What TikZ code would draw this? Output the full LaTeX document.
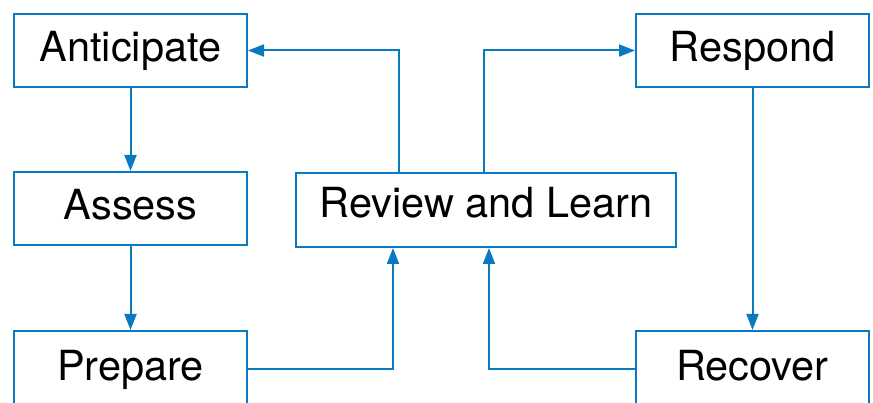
\documentclass[tikz,border=0pt]{standalone}
\usepackage{fontspec}
\setmainfont{TeX Gyre Heros}
\usetikzlibrary{arrows.meta}
\definecolor{lineblue}{RGB}{10,122,192}
\begin{document}
\begin{tikzpicture}[x=1pt,y=-1pt,
  box/.style={draw=lineblue, line width=2pt, inner sep=0pt, minimum width=233pt, minimum height=73pt,
    text height=29pt, text depth=6pt,
    font=\fontsize{41.5}{41.5}\selectfont, text=black},
  arr/.style={draw=lineblue, line width=2pt, -{Triangle[length=16pt,width=12pt]}}]
\useasboundingbox (0,0) rectangle (873,403);
\clip (0,0) rectangle (873,403);
\node[box] (ant) at (130.5,50.5) {Anticipate};
\node[box] (ass) at (130.5,208.5) {Assess};
\node[box, minimum height=75pt] (pre) at (130.5,368.5) {Prepare};
\node[box, minimum width=380pt, minimum height=74pt, text depth=13pt] (rev) at (486,210) {Review and Learn};
\node[box] (res) at (752.5,50.5) {Respond};
\node[box, minimum height=75pt] (rec) at (752.5,368.5) {Recover};
\coordinate (xa) at (393,0);
\coordinate (xb) at (489,0);
\coordinate (xc) at (399,0);
\coordinate (xd) at (484,0);
\draw[arr] (ant) -- (ass);
\draw[arr] (ass) -- (pre);
\draw[arr] (res) -- (rec);
\draw[arr] (pre.east) -| (rev.south -| xa);
\draw[arr] (rec.west) -| (rev.south -| xb);
\draw[arr] (rev.north -| xc) |- (ant.east);
\draw[arr] (rev.north -| xd) |- (res.west);
\end{tikzpicture}
\end{document}
